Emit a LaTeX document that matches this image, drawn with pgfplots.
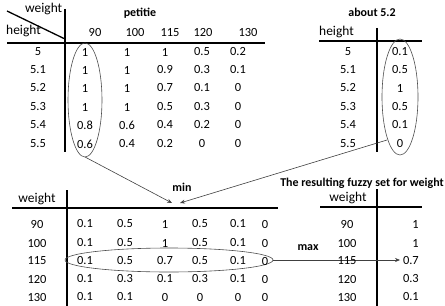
\documentclass[border=0pt]{standalone}
\usepackage{fontspec}
\setmainfont{Carlito}
\usepackage{pgfplots}
\pgfplotsset{compat=1.18}
\usetikzlibrary{arrows.meta}
\newcommand\tabfont{\fontsize{12.5}{14}\selectfont}
\newcommand\wordfont{\fontsize{13.5}{15}\selectfont}
\newcommand\headfont{\bfseries\fontsize{12}{14}\selectfont}
\pgfplotsset{txt/.style={only marks, mark=*, mark size=0pt, mark options={draw=none,fill=none},
  nodes near coords, point meta=explicit symbolic,
  nodes near coords style={anchor=#1, inner sep=0pt, font=\tabfont, text=black}},
  txt/.default=center}
\begin{document}
\begin{tikzpicture}
\begin{axis}[width=445bp, height=306bp, scale only axis, xmin=0, xmax=445, ymin=0, ymax=306,
  y dir=reverse, axis lines=none, clip=false]
% top-left table: petitie
\addplot[txt] table[meta=l] {
x y l
95 33 90
135 33 100
170 33 115
203 33 120
248 33 130
38 52 5
38 70 5.1
38 88 5.2
38 107 5.3
38 125 5.4
38 144 5.5
85 52 1
127 52 1
165 52 1
202 52 0.5
238 52 0.2
85 70 1
127 70 1
165 70 0.9
202 70 0.3
238 70 0.1
85 88 1
127 88 1
165 88 0.7
202 88 0.1
238 88 0
85 107 1
127 107 1
165 107 0.5
202 107 0.3
238 107 0
85 125 0.8
127 125 0.6
165 125 0.4
202 125 0.2
238 125 0
85 144 0.6
127 144 0.4
165 144 0.2
202 144 0
238 144 0
};
% top-right table: about 5.2
\addplot[txt] table[meta=l] {
x y l
348 52 5
348 70 5.1
348 88 5.2
348 107 5.3
348 125 5.4
348 144 5.5
400 52 0.1
400 70 0.5
400 88 1
400 107 0.5
400 125 0.1
400 144 0
};
% bottom-left table: min
\addplot[txt] table[meta=l] {
x y l
37 224 90
37 243 100
37 261 115
37 279 120
37 297 130
85 224 0.1
125 224 0.5
165 224 1
200 224 0.5
238 224 0.1
265 224 0
85 243 0.1
125 243 0.5
165 243 1
200 243 0.5
238 243 0.1
265 243 0
85 261 0.1
125 261 0.5
165 261 0.7
200 261 0.5
238 261 0.1
265 261 0
85 279 0.1
125 279 0.3
165 279 0.1
200 279 0.3
238 279 0.1
265 279 0
85 297 0.1
125 297 0.1
165 297 0
200 297 0
238 297 0
265 297 0
};
% bottom-right table: result
\addplot[txt] table[meta=l] {
x y l
347 224 90
347 243 100
347 261 115
347 279 120
347 297 130
};
\addplot[txt=east] table[meta=l] {
x y l
419 224 1
419 243 1
419 261 0.7
419 279 0.3
419 297 0.1
};
% headings
\node[font=\wordfont, anchor=west, inner sep=0pt] at (axis cs:25,9) {weight};
\node[font=\wordfont, anchor=west, inner sep=0pt] at (axis cs:6,31) {height};
\node[font=\headfont] at (axis cs:140,13) {petitie};
\node[font=\headfont] at (axis cs:372,12) {about 5.2};
\node[font=\wordfont, anchor=west, inner sep=0pt] at (axis cs:319,32) {height};
\node[font=\headfont] at (axis cs:182,187) {min};
\node[font=\wordfont] at (axis cs:37,199) {weight};
\node[font=\headfont] at (axis cs:362,183) {The resulting fuzzy set for weight};
\node[font=\wordfont] at (axis cs:348,198) {weight};
\node[font=\headfont] at (axis cs:308,248) {max};
% rules
\draw[line width=1.8pt] (axis cs:7,43) -- (axis cs:265,43);
\draw[line width=1.8pt] (axis cs:65,9) -- (axis cs:65,152);
\draw[line width=1.3pt] (axis cs:7,11) -- (axis cs:65,39);
\draw[line width=1.8pt] (axis cs:319,41) -- (axis cs:422,41);
\draw[line width=1.8pt] (axis cs:377,28) -- (axis cs:377,152);
\draw[line width=1.8pt] (axis cs:12,208) -- (axis cs:278,208);
\draw[line width=1.8pt] (axis cs:67,190) -- (axis cs:67,306);
\draw[line width=1.8pt] (axis cs:320,207) -- (axis cs:422,207);
\draw[line width=1.8pt] (axis cs:377,189) -- (axis cs:377,306);
% ellipses
\draw[black!70, line width=0.6pt] (axis cs:85,100) ellipse [x radius=17, y radius=57];
\draw[black!70, line width=0.6pt] (axis cs:400,97) ellipse [x radius=18, y radius=58];
\draw[black!70, line width=0.6pt] (axis cs:169,260) ellipse [x radius=104, y radius=12];
% arrows
\draw[black!75, line width=0.6pt, -{Stealth[length=5pt,width=4pt]}] (axis cs:85,157) -- (axis cs:172,203);
\draw[black!75, line width=0.6pt, -{Stealth[length=5pt,width=4pt]}] (axis cs:387,140) -- (axis cs:180,203);
\draw[black!75, line width=0.6pt, -{Stealth[length=5pt,width=4pt]}] (axis cs:273,260) -- (axis cs:400,260);
\end{axis}
\pgfresetboundingbox
\path[use as bounding box] (current axis.south west) rectangle (current axis.north east);
\end{tikzpicture}
\end{document}
